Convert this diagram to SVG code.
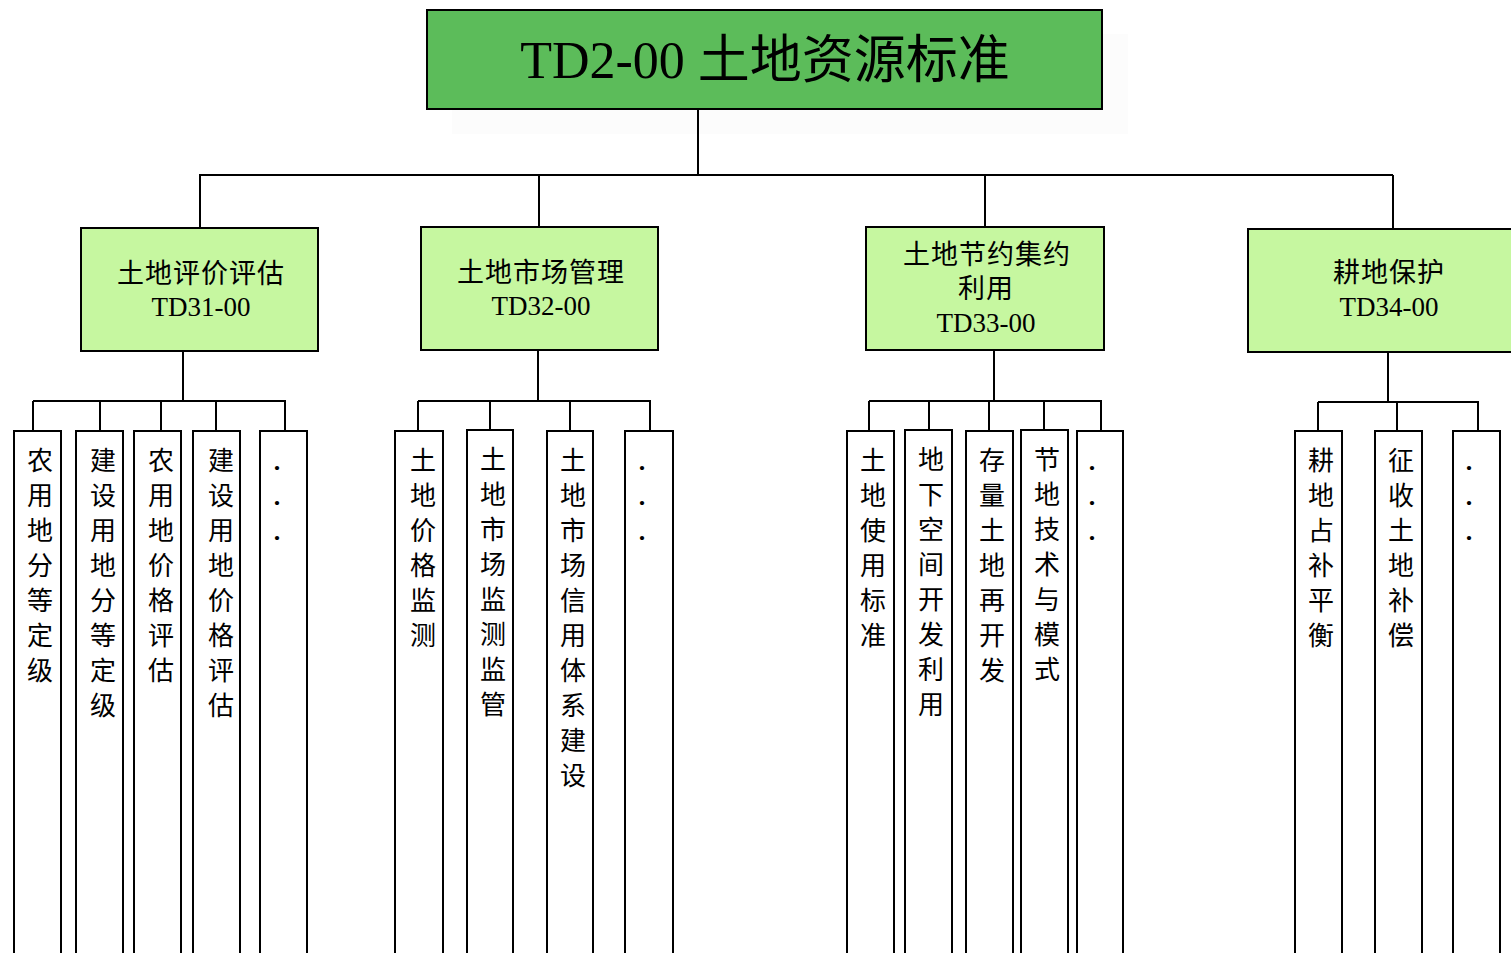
<svg xmlns="http://www.w3.org/2000/svg" width="1511" height="953" viewBox="0 0 1511 953">
<style>
.bg{fill:#ffffff}
.faint{fill:#fcfcfc}
.top{fill:#5cbc5a;stroke:#000;stroke-width:2}
.mid{fill:#c6f7a0;stroke:#000;stroke-width:2}
.leaf{fill:#ffffff;stroke:#000;stroke-width:2}
.ln{fill:none;stroke:#000;stroke-width:2}
text{font-family:"Liberation Serif","Noto Sans CJK SC",serif;fill:#000;text-anchor:middle}
.t0{font-size:52px}
.t1{font-size:27px}
.cj{letter-spacing:1px}
.t2{font-size:26px}
.dot{font-weight:bold}
</style>
<rect class="bg" x="0" y="0" width="1511" height="953"/>
<rect class="faint" x="452" y="34" width="676" height="100"/>
<g id="connectors">
<path class="ln" d="M698 109V175M199 175H1393M200 175V228M539 175V227M985 175V227M1393 175V229"/>
<path class="ln" d="M183 351V401M33 401H286M33 401V431M100 401V431M161 401V431M216 401V431M285 401V431"/>
<path class="ln" d="M538 350V401M418 401H651M418 401V431M490 401V430M570 401V431M650 401V431"/>
<path class="ln" d="M994 350V401M869 401H1102M869 401V431M929 401V431M989 401V431M1044 401V431M1101 401V431"/>
<path class="ln" d="M1388 352V402M1318 402H1479M1318 402V431M1397 402V431M1478 402V431"/>
</g>
<g id="root">
<rect class="top" x="427" y="10" width="675" height="99"/>
<text class="t0" x="765" y="78">TD2-00 土地资源标准</text>
</g>
<g id="n31">
<rect class="mid" x="81" y="228" width="237" height="123"/>
<text class="t1 cj" x="201" y="283">土地评价评估</text>
<text class="t1" x="201" y="316">TD31-00</text>
</g>
<g id="n32">
<rect class="mid" x="421" y="227" width="237" height="123"/>
<text class="t1 cj" x="541" y="282">土地市场管理</text>
<text class="t1" x="541" y="315">TD32-00</text>
</g>
<g id="n33">
<rect class="mid" x="866" y="227" width="238" height="123"/>
<text class="t1 cj" x="987" y="264">土地节约集约</text>
<text class="t1 cj" x="986" y="298">利用</text>
<text class="t1" x="986" y="332">TD33-00</text>
</g>
<g id="n34">
<rect class="mid" x="1248" y="229" width="275" height="123"/>
<text class="t1 cj" x="1389" y="282">耕地保护</text>
<text class="t1" x="1389" y="316">TD34-00</text>
</g>
<g id="leaf-1-1"><rect class="leaf" x="14" y="431" width="47" height="540"/>
<text class="t2"><tspan x="40" y="470">农</tspan><tspan x="40" y="505">用</tspan><tspan x="40" y="540">地</tspan><tspan x="40" y="575">分</tspan><tspan x="40" y="610">等</tspan><tspan x="40" y="645">定</tspan><tspan x="40" y="680">级</tspan></text></g>
<g id="leaf-1-2"><rect class="leaf" x="76" y="431" width="47" height="540"/>
<text class="t2"><tspan x="103" y="470">建</tspan><tspan x="103" y="505">设</tspan><tspan x="103" y="540">用</tspan><tspan x="103" y="575">地</tspan><tspan x="103" y="610">分</tspan><tspan x="103" y="645">等</tspan><tspan x="103" y="680">定</tspan><tspan x="103" y="715">级</tspan></text></g>
<g id="leaf-1-3"><rect class="leaf" x="134" y="431" width="47" height="540"/>
<text class="t2"><tspan x="161" y="470">农</tspan><tspan x="161" y="505">用</tspan><tspan x="161" y="540">地</tspan><tspan x="161" y="575">价</tspan><tspan x="161" y="610">格</tspan><tspan x="161" y="645">评</tspan><tspan x="161" y="680">估</tspan></text></g>
<g id="leaf-1-4"><rect class="leaf" x="193" y="431" width="47" height="540"/>
<text class="t2"><tspan x="221" y="470">建</tspan><tspan x="221" y="505">设</tspan><tspan x="221" y="540">用</tspan><tspan x="221" y="575">地</tspan><tspan x="221" y="610">价</tspan><tspan x="221" y="645">格</tspan><tspan x="221" y="680">评</tspan><tspan x="221" y="715">估</tspan></text></g>
<g id="leaf-1-5"><rect class="leaf" x="260" y="431" width="47" height="540"/>
<text class="t2 dot"><tspan x="277" y="470">.</tspan><tspan x="277" y="505">.</tspan><tspan x="277" y="540">.</tspan></text></g>
<g id="leaf-2-1"><rect class="leaf" x="395" y="431" width="48" height="540"/>
<text class="t2"><tspan x="423" y="470">土</tspan><tspan x="423" y="505">地</tspan><tspan x="423" y="540">价</tspan><tspan x="423" y="575">格</tspan><tspan x="423" y="610">监</tspan><tspan x="423" y="645">测</tspan></text></g>
<g id="leaf-2-2"><rect class="leaf" x="467" y="430" width="46" height="540"/>
<text class="t2"><tspan x="493" y="469">土</tspan><tspan x="493" y="504">地</tspan><tspan x="493" y="539">市</tspan><tspan x="493" y="574">场</tspan><tspan x="493" y="609">监</tspan><tspan x="493" y="644">测</tspan><tspan x="493" y="679">监</tspan><tspan x="493" y="714">管</tspan></text></g>
<g id="leaf-2-3"><rect class="leaf" x="547" y="431" width="46" height="540"/>
<text class="t2"><tspan x="573" y="470">土</tspan><tspan x="573" y="505">地</tspan><tspan x="573" y="540">市</tspan><tspan x="573" y="575">场</tspan><tspan x="573" y="610">信</tspan><tspan x="573" y="645">用</tspan><tspan x="573" y="680">体</tspan><tspan x="573" y="715">系</tspan><tspan x="573" y="750">建</tspan><tspan x="573" y="785">设</tspan></text></g>
<g id="leaf-2-4"><rect class="leaf" x="625" y="431" width="48" height="540"/>
<text class="t2 dot"><tspan x="642" y="470">.</tspan><tspan x="642" y="505">.</tspan><tspan x="642" y="540">.</tspan></text></g>
<g id="leaf-3-1"><rect class="leaf" x="847" y="431" width="47" height="540"/>
<text class="t2"><tspan x="873" y="470">土</tspan><tspan x="873" y="505">地</tspan><tspan x="873" y="540">使</tspan><tspan x="873" y="575">用</tspan><tspan x="873" y="610">标</tspan><tspan x="873" y="645">准</tspan></text></g>
<g id="leaf-3-2"><rect class="leaf" x="905" y="430" width="47" height="540"/>
<text class="t2"><tspan x="931" y="469">地</tspan><tspan x="931" y="504">下</tspan><tspan x="931" y="539">空</tspan><tspan x="931" y="574">间</tspan><tspan x="931" y="609">开</tspan><tspan x="931" y="644">发</tspan><tspan x="931" y="679">利</tspan><tspan x="931" y="714">用</tspan></text></g>
<g id="leaf-3-3"><rect class="leaf" x="966" y="431" width="47" height="540"/>
<text class="t2"><tspan x="992" y="470">存</tspan><tspan x="992" y="505">量</tspan><tspan x="992" y="540">土</tspan><tspan x="992" y="575">地</tspan><tspan x="992" y="610">再</tspan><tspan x="992" y="645">开</tspan><tspan x="992" y="680">发</tspan></text></g>
<g id="leaf-3-4"><rect class="leaf" x="1021" y="430" width="47" height="540"/>
<text class="t2"><tspan x="1047" y="469">节</tspan><tspan x="1047" y="504">地</tspan><tspan x="1047" y="539">技</tspan><tspan x="1047" y="574">术</tspan><tspan x="1047" y="609">与</tspan><tspan x="1047" y="644">模</tspan><tspan x="1047" y="679">式</tspan></text></g>
<g id="leaf-3-5"><rect class="leaf" x="1077" y="431" width="46" height="540"/>
<text class="t2 dot"><tspan x="1092" y="470">.</tspan><tspan x="1092" y="505">.</tspan><tspan x="1092" y="540">.</tspan></text></g>
<g id="leaf-4-1"><rect class="leaf" x="1295" y="431" width="47" height="540"/>
<text class="t2"><tspan x="1321" y="470">耕</tspan><tspan x="1321" y="505">地</tspan><tspan x="1321" y="540">占</tspan><tspan x="1321" y="575">补</tspan><tspan x="1321" y="610">平</tspan><tspan x="1321" y="645">衡</tspan></text></g>
<g id="leaf-4-2"><rect class="leaf" x="1375" y="431" width="47" height="540"/>
<text class="t2"><tspan x="1401" y="470">征</tspan><tspan x="1401" y="505">收</tspan><tspan x="1401" y="540">土</tspan><tspan x="1401" y="575">地</tspan><tspan x="1401" y="610">补</tspan><tspan x="1401" y="645">偿</tspan></text></g>
<g id="leaf-4-3"><rect class="leaf" x="1453" y="431" width="47" height="540"/>
<text class="t2 dot"><tspan x="1469" y="470">.</tspan><tspan x="1469" y="505">.</tspan><tspan x="1469" y="540">.</tspan></text></g>
</svg>
